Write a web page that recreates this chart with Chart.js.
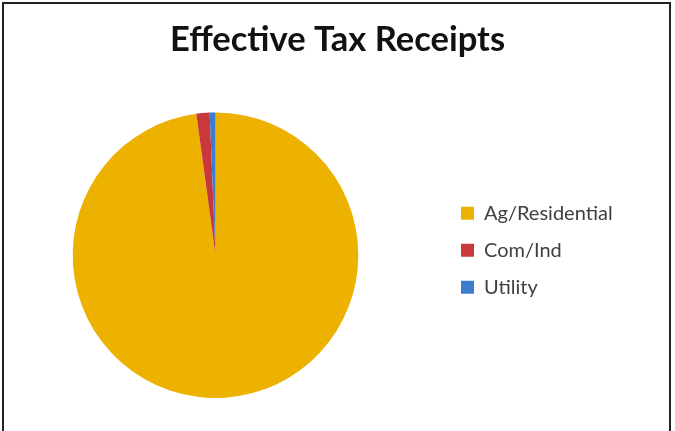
<!DOCTYPE html>
<html>
<head>
<meta charset="utf-8">
<script src="https://cdn.jsdelivr.net/npm/chart.js"></script>
<style>
    body { margin: 0; background: #fff; }
    #wrap { position: relative; width: 675px; height: 431px; }
    #frame { position: absolute; left: 2px; top: 2px; width: 669px; height: 431px; border-left: 2px solid #222; border-top: 2px solid #222; border-right: 2px solid #222; box-sizing: border-box; }
</style>
</head>
<body>
<div id="wrap">
    <canvas id="myChart" width="675" height="431"></canvas>
    <div id="frame"></div>
</div>
<script>
const categories = ['Ag/Residential', 'Com/Ind', 'Utility'];
const receipts = [97.85, 1.5, 0.65];
const sliceColors = ['#EDB100', '#C9393C', '#3C7DD0'];

// legend sits closer to the pie than chart.js would put it by default
const legendLeft = 444;
const legendLift = 5;
const pieRight = 431;

const moveLegend = {
    id: 'moveLegend',
    afterLayout(chart) {
        const legend = chart.legend;
        const dx = legend.left - legendLeft;
        legend.left -= dx;
        legend.right -= dx;
        legend.top -= legendLift;
        legend.bottom -= legendLift;
        chart.chartArea.right = pieRight;
        chart.chartArea.width = pieRight - chart.chartArea.left;
    }
};

const ctx = document.getElementById('myChart').getContext('2d');
const myChart = new Chart(ctx, {
    type: 'pie',
    data: {
        labels: categories,
        datasets: [{
            data: receipts,
            backgroundColor: sliceColors,
            borderWidth: 0
        }]
    },
    options: {
        responsive: false,
        animation: false,
        layout: {
            padding: { left: 0, right: 0, top: 0, bottom: 33 }
        },
        plugins: {
            title: {
                display: true,
                text: 'Effective Tax Receipts',
                color: '#111',
                font: { family: 'Lato', size: 34.5, weight: 'bold' },
                padding: { top: 19, bottom: 52 }
            },
            legend: {
                position: 'right',
                fullSize: false,
                labels: {
                    boxWidth: 13,
                    boxHeight: 13,
                    padding: 17,
                    color: '#404040',
                    font: { family: 'Lato', size: 20 }
                }
            },
            tooltip: { enabled: false }
        }
    },
    plugins: [moveLegend]
});
</script>
</body>
</html>
